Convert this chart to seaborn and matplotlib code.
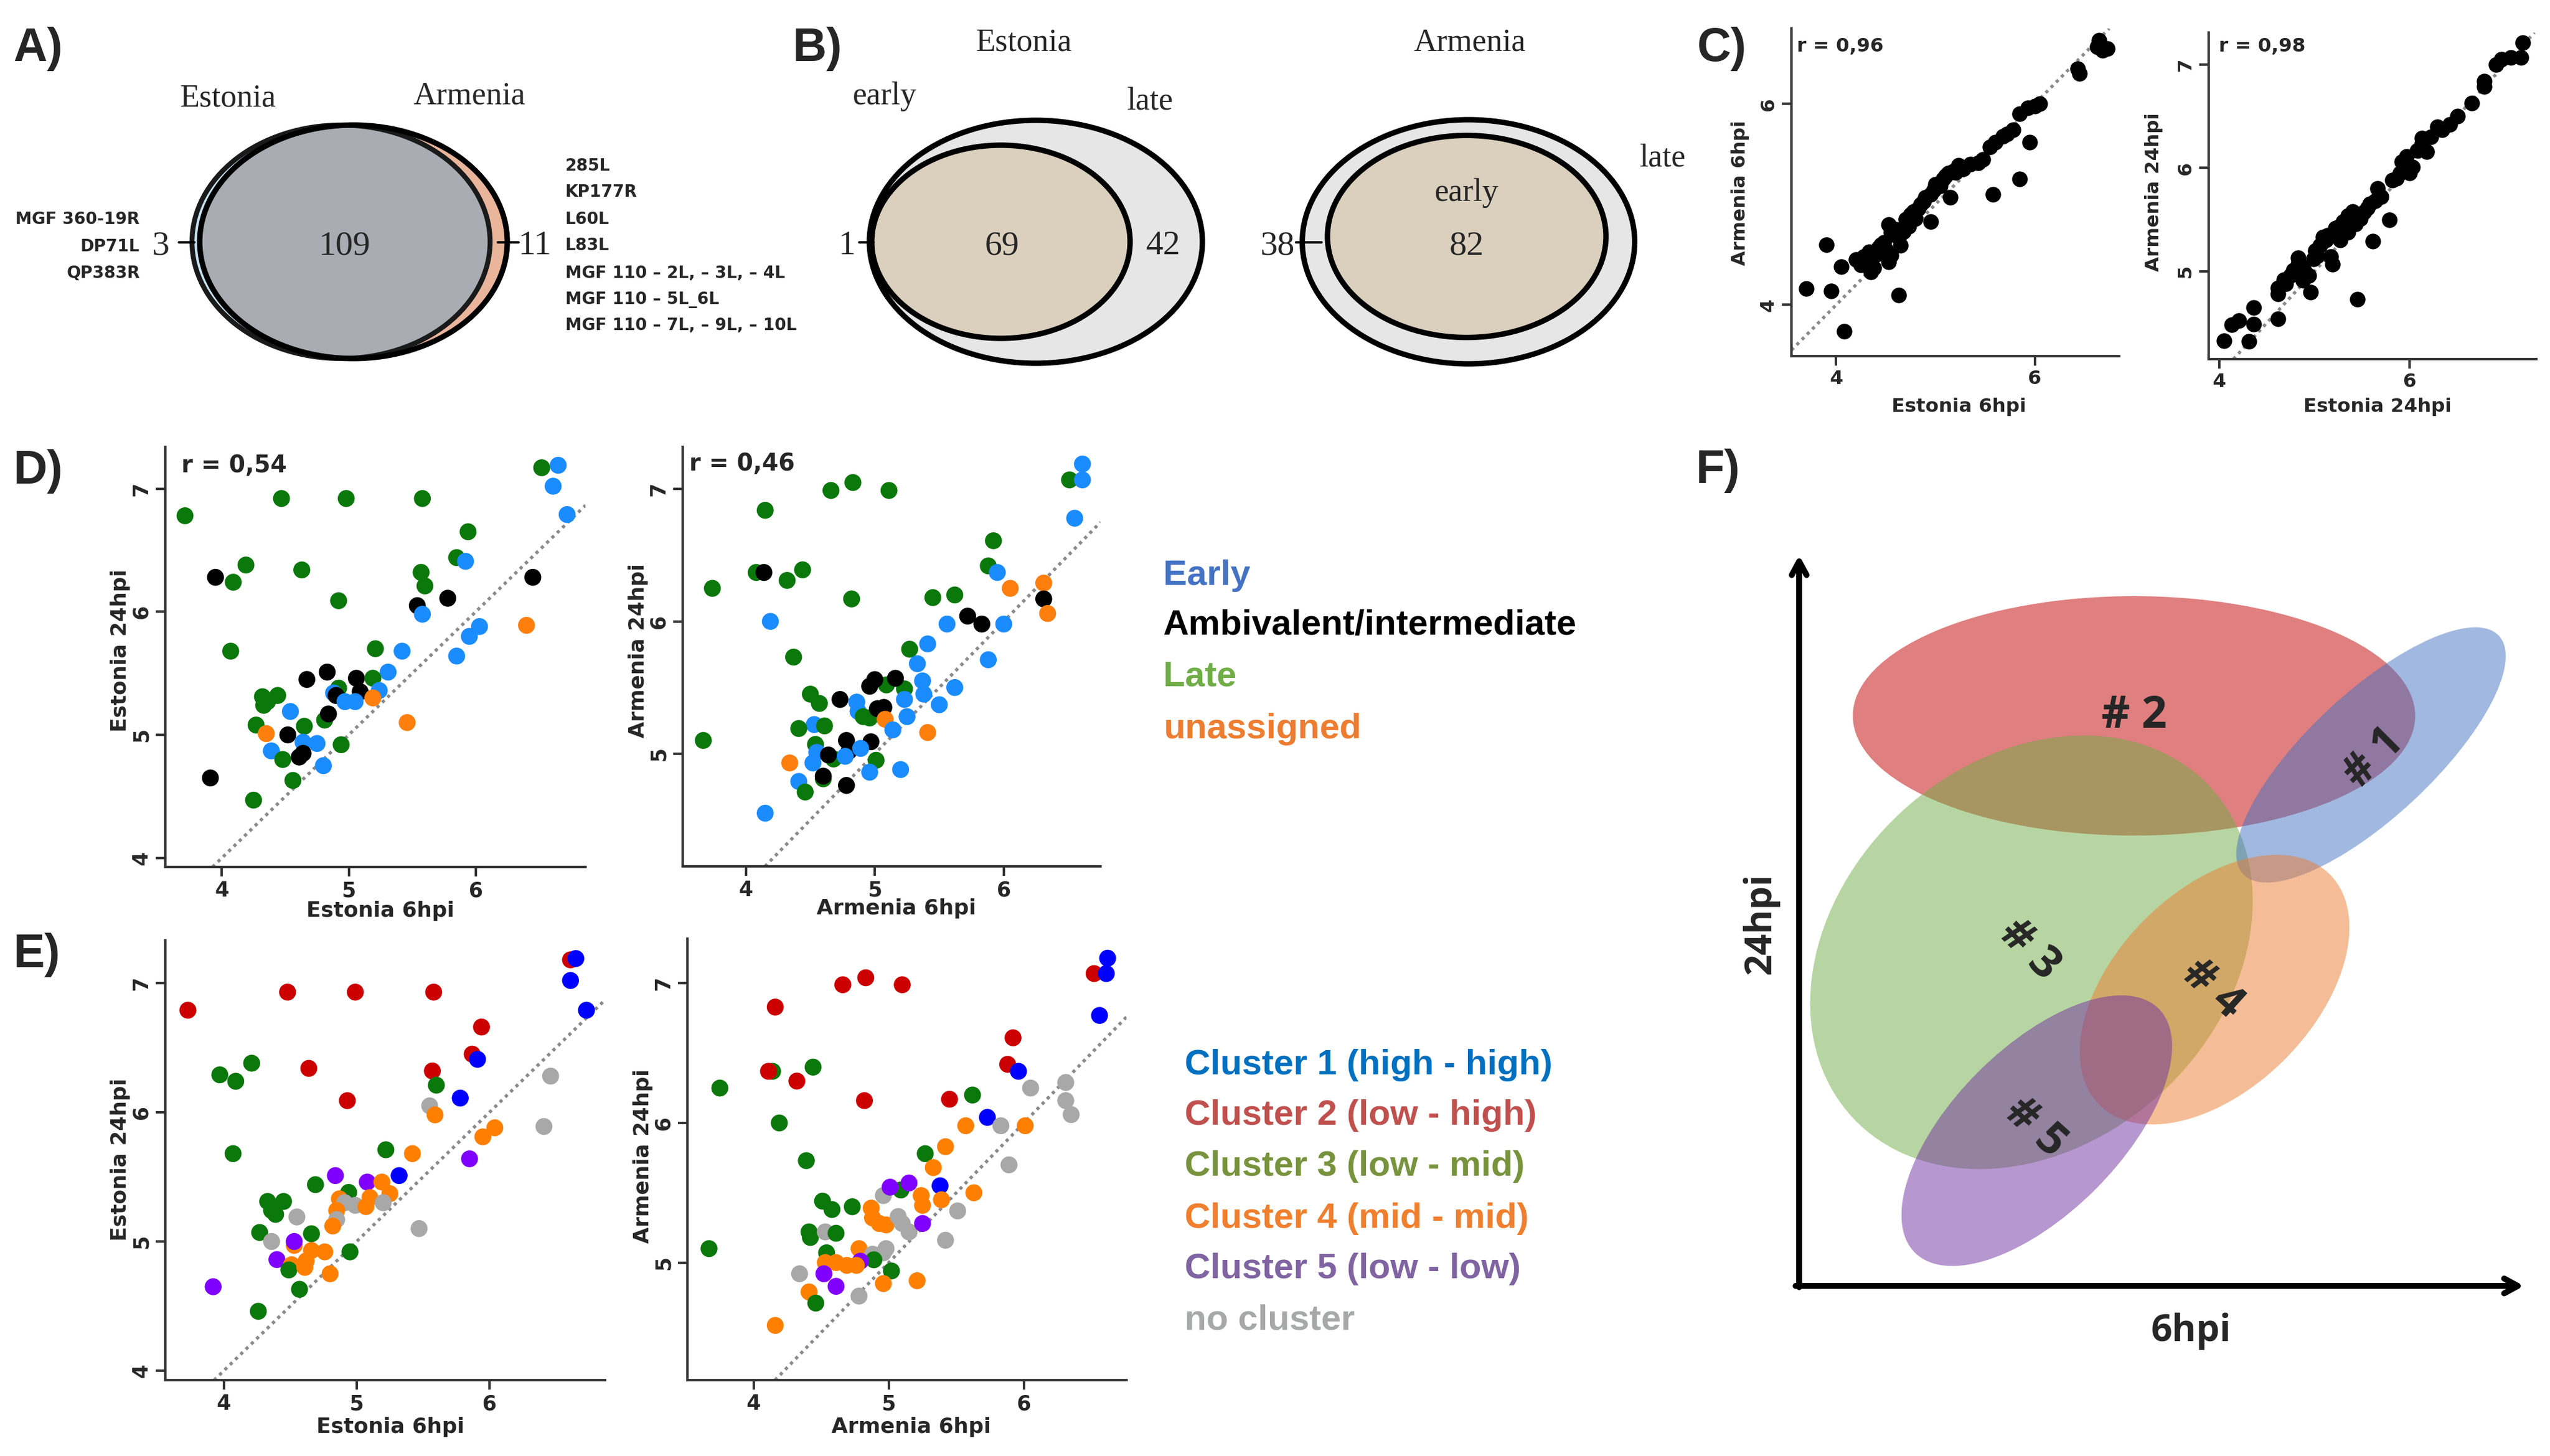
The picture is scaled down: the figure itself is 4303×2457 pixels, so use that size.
import numpy as np
import pandas as pd
import matplotlib
matplotlib.use("Agg")
import matplotlib.pyplot as plt
from matplotlib.patches import Ellipse
import seaborn as sns

W, H = 4303, 2457
DPI = 300

# ---------------- data ----------------
# A) Venn: genes detected in Estonia vs Armenia
venn_a_sets = ["Estonia", "Armenia"]
venn_a_counts = [3, 109, 11]          # Estonia only, both, Armenia only
estonia_only_genes = ["MGF 360-19R", "DP71L", "QP383R"]
armenia_only_genes = ["285L", "KP177R", "L60L", "L83L",
                      "MGF 110 – 2L, – 3L, – 4L", "MGF 110 – 5L_6L",
                      "MGF 110 – 7L, – 9L, – 10L"]

# B) early / late genes per isolate
venn_b_estonia = [1, 69, 42]          # early only, early+late, late only
venn_b_armenia = [38, 82]             # late only, early+late

# C) Estonia vs Armenia at the same time point
c6_est = [6.65, 6.63, 6.73, 6.68, 6.43, 6.45, 6.05, 5.93, 5.85, 5.78, 5.95, 5.60, 5.55, 5.48, 5.43,
          5.23, 5.28, 5.13, 5.08, 5.05, 5.85, 5.58, 5.15, 4.98, 4.90, 4.85, 4.83, 4.95, 4.80, 4.73,
          4.68, 4.53, 4.55, 4.63, 4.65, 4.55, 4.53, 4.43, 4.33, 4.28, 4.20, 4.25, 4.38, 4.35, 3.90,
          4.05, 3.70, 3.95, 4.63, 4.08, 5.00, 4.95, 4.88, 4.78, 4.70, 4.60, 4.48, 4.40, 5.20, 5.35,
          5.68, 5.72, 6.00, 4.75, 4.58, 5.10, 5.18, 4.50, 4.45, 4.30]
c6_arm = [6.63, 6.57, 6.55, 6.53, 6.35, 6.30, 6.00, 5.96, 5.90, 5.74, 5.62, 5.62, 5.57, 5.45, 5.41,
          5.39, 5.35, 5.31, 5.25, 5.18, 5.25, 5.10, 5.07, 5.14, 5.07, 5.00, 4.96, 4.83, 4.86, 4.78,
          4.73, 4.80, 4.72, 4.67, 4.59, 4.49, 4.43, 4.57, 4.53, 4.48, 4.45, 4.40, 4.37, 4.33, 4.60,
          4.38, 4.16, 4.14, 4.10, 3.74, 5.20, 5.10, 5.03, 4.93, 4.85, 4.75, 4.62, 4.50, 5.32, 5.40,
          5.68, 5.70, 5.98, 4.90, 4.70, 5.28, 5.33, 4.55, 4.60, 4.45]

c24_est = [4.05, 4.13, 4.21, 4.31, 4.36, 4.36, 4.62, 4.62, 4.62, 4.68, 4.75, 4.78, 4.83, 4.83, 4.96,
           4.88, 4.94, 4.99, 5.01, 5.06, 5.09, 5.19, 5.17, 5.25, 5.30, 5.35, 5.40, 5.27, 5.35, 5.45,
           5.43, 5.48, 5.56, 5.64, 5.66, 5.61, 5.79, 5.82, 5.90, 5.92, 5.97, 6.03, 6.00, 6.08, 6.13,
           6.13, 6.18, 6.29, 6.34, 6.42, 6.65, 6.78, 6.78, 6.91, 6.96, 7.06, 7.17, 7.19, 4.80, 4.86,
           5.03, 5.12, 5.20, 5.52, 5.70, 5.86, 6.22, 6.50, 4.70, 4.90, 5.14, 5.22, 5.58]
c24_arm = [4.33, 4.48, 4.52, 4.32, 4.49, 4.65, 4.54, 4.78, 4.84, 4.92, 4.96, 5.01, 5.07, 5.13, 4.80,
           4.91, 4.96, 5.12, 5.20, 5.25, 5.33, 5.07, 5.14, 5.43, 5.48, 5.54, 5.58, 5.30, 5.38, 4.73,
           5.46, 5.51, 5.61, 5.68, 5.80, 5.29, 5.50, 5.88, 5.95, 6.06, 6.11, 6.01, 5.95, 6.17, 6.24,
           6.29, 6.16, 6.40, 6.37, 6.42, 6.63, 6.84, 6.79, 7.00, 7.05, 7.07, 7.07, 7.21, 4.98, 5.05,
           5.15, 5.30, 5.38, 5.57, 5.72, 5.90, 6.30, 6.50, 4.88, 5.00, 5.35, 5.42, 5.65]

# D) Estonia 6hpi vs 24hpi, coloured by expression class (E/A/L/U)
d_est6 = [3.71, 4.47, 4.98, 5.58, 6.52, 6.65, 6.61, 6.72, 5.94, 5.85, 5.92, 4.19, 4.63, 3.95, 4.09,
          5.57, 5.60, 6.45, 5.78, 5.54, 5.58, 4.92, 6.40, 6.03, 5.95, 5.85, 4.07, 5.21, 5.42, 5.31,
          4.83, 4.67, 5.06, 5.19, 5.24, 5.09, 4.92, 4.88, 4.90, 4.97, 5.05, 5.19, 4.32, 4.33, 4.44,
          4.36, 4.54, 4.81, 4.84, 4.27, 4.65, 4.35, 4.52, 4.64, 4.75, 4.94, 5.46, 4.39, 4.48, 4.61,
          4.64, 4.80, 3.91, 4.56, 4.25]
d_est24 = [6.78, 6.92, 6.92, 6.92, 7.17, 7.19, 7.02, 6.79, 6.65, 6.44, 6.41, 6.38, 6.34, 6.28, 6.24,
           6.32, 6.21, 6.28, 6.11, 6.05, 5.98, 6.09, 5.89, 5.88, 5.80, 5.64, 5.68, 5.70, 5.68, 5.51,
           5.51, 5.45, 5.46, 5.46, 5.36, 5.35, 5.38, 5.34, 5.32, 5.27, 5.27, 5.30, 5.31, 5.24, 5.32,
           5.27, 5.19, 5.12, 5.17, 5.08, 5.07, 5.01, 5.00, 4.94, 4.93, 4.92, 5.10, 4.87, 4.80, 4.82,
           4.85, 4.75, 4.65, 4.63, 4.47]
d_est_class = ["L", "L", "L", "L", "L", "E", "E", "E", "L", "L", "E", "L", "L", "A", "L",
               "L", "L", "A", "A", "A", "E", "L", "U", "E", "E", "E", "L", "L", "E", "E",
               "A", "A", "A", "L", "E", "A", "L", "E", "A", "E", "E", "U", "L", "L", "L",
               "L", "E", "L", "A", "L", "L", "U", "A", "E", "E", "L", "U", "E", "L", "A",
               "A", "E", "A", "L", "L"]

d_arm6 = [3.74, 3.67, 4.15, 4.66, 4.83, 5.11, 6.51, 6.61, 6.61, 6.55, 5.92, 5.88, 5.95, 4.08, 4.14,
          4.44, 4.32, 4.82, 6.05, 6.31, 6.31, 6.34, 5.45, 5.62, 4.19, 5.56, 5.72, 5.83, 6.00, 5.41,
          5.27, 5.33, 5.88, 4.37, 5.09, 5.23, 5.16, 5.00, 4.96, 5.37, 5.38, 5.62, 4.50, 4.57, 4.73,
          4.86, 4.87, 4.91, 4.96, 5.02, 5.07, 5.23, 5.25, 5.50, 5.08, 4.53, 4.41, 4.61, 5.14, 5.41,
          4.54, 4.78, 4.80, 4.97, 4.89, 4.55, 4.52, 4.68, 4.64, 4.77, 5.01, 4.34, 4.96, 5.20, 4.60,
          4.60, 4.41, 4.46, 4.78, 4.15]
d_arm24 = [6.25, 5.10, 6.84, 6.99, 7.05, 6.99, 7.07, 7.19, 7.07, 6.78, 6.61, 6.42, 6.37, 6.37, 6.37,
           6.39, 6.31, 6.17, 6.25, 6.29, 6.17, 6.06, 6.18, 6.20, 6.00, 5.98, 6.04, 5.98, 5.98, 5.83,
           5.79, 5.68, 5.71, 5.73, 5.52, 5.49, 5.57, 5.56, 5.51, 5.55, 5.45, 5.50, 5.45, 5.38, 5.41,
           5.39, 5.32, 5.28, 5.27, 5.34, 5.35, 5.41, 5.28, 5.37, 5.26, 5.22, 5.19, 5.21, 5.18, 5.16,
           5.07, 5.10, 5.02, 5.09, 5.04, 5.01, 4.93, 4.96, 4.99, 4.98, 4.95, 4.93, 4.86, 4.88, 4.81,
           4.83, 4.79, 4.71, 4.76, 4.55]
d_arm_class = ["L", "L", "L", "L", "L", "L", "L", "E", "E", "E", "L", "L", "E", "L", "A",
               "L", "L", "L", "U", "U", "A", "U", "L", "L", "E", "E", "A", "A", "E", "E",
               "L", "E", "E", "L", "L", "L", "A", "A", "A", "E", "E", "E", "L", "L", "A",
               "E", "E", "L", "L", "A", "A", "E", "E", "E", "U", "E", "L", "L", "E", "U",
               "L", "A", "A", "A", "E", "E", "E", "L", "A", "E", "L", "U", "E", "E", "L",
               "A", "E", "L", "A", "E"]

# E) same genes, coloured by cluster (0 = no cluster)
e_est6 = [3.73, 4.48, 4.99, 5.58, 6.61, 6.65, 6.61, 6.73, 5.94, 5.87, 5.91, 4.21, 4.64, 3.97, 4.09,
          5.57, 5.60, 6.46, 5.78, 5.55, 5.59, 4.93, 6.41, 6.04, 5.95, 5.85, 4.07, 5.22, 5.42, 5.32,
          4.84, 4.69, 5.08, 5.19, 5.25, 5.10, 5.20, 4.94, 4.87, 4.91, 4.99, 5.07, 4.33, 4.36, 4.45,
          4.39, 4.55, 4.85, 4.85, 4.82, 4.27, 4.66, 4.36, 4.53, 4.53, 4.66, 4.76, 4.95, 5.47, 4.40,
          4.51, 4.49, 4.61, 4.62, 4.80, 3.92, 4.57, 4.26]
e_est24 = [6.79, 6.93, 6.93, 6.93, 7.18, 7.19, 7.02, 6.79, 6.66, 6.45, 6.41, 6.38, 6.34, 6.29, 6.24,
           6.32, 6.21, 6.28, 6.11, 6.05, 5.98, 6.09, 5.89, 5.88, 5.81, 5.64, 5.68, 5.71, 5.68, 5.51,
           5.51, 5.44, 5.46, 5.46, 5.37, 5.34, 5.30, 5.38, 5.33, 5.30, 5.28, 5.27, 5.31, 5.24, 5.31,
           5.21, 5.19, 5.24, 5.17, 5.12, 5.07, 5.06, 5.00, 4.97, 5.00, 4.93, 4.92, 4.92, 5.10, 4.86,
           4.82, 4.78, 4.80, 4.85, 4.75, 4.65, 4.63, 4.46]
e_est_cluster = [2, 2, 2, 2, 2, 1, 1, 1, 2, 2, 1, 3, 2, 3, 3,
                 2, 3, 0, 1, 0, 4, 2, 0, 4, 4, 5, 3, 3, 4, 1,
                 5, 3, 5, 4, 4, 4, 0, 3, 4, 0, 0, 4, 3, 3, 3,
                 3, 0, 4, 0, 4, 3, 3, 0, 4, 5, 4, 4, 3, 0, 5,
                 4, 3, 4, 4, 4, 5, 3, 3]

e_arm6 = [3.75, 3.67, 4.16, 4.66, 4.83, 5.10, 6.52, 6.62, 6.61, 6.56, 5.92, 5.88, 5.96, 4.14, 4.11,
          4.44, 4.32, 4.82, 6.05, 6.31, 6.31, 6.35, 5.45, 5.62, 4.19, 5.57, 5.73, 5.83, 6.01, 5.42,
          5.27, 5.33, 5.89, 4.39, 4.96, 5.09, 5.15, 5.01, 5.38, 5.24, 5.25, 5.39, 5.63, 5.51, 4.51,
          4.58, 4.73, 4.87, 4.88, 4.93, 4.98, 5.07, 5.10, 5.15, 5.25, 5.42, 4.41, 4.42, 4.53, 4.61,
          4.78, 4.88, 4.96, 4.98, 4.54, 4.89, 4.79, 4.53, 4.61, 4.69, 4.76, 4.34, 4.52, 5.02, 4.96,
          5.21, 4.61, 4.41, 4.78, 4.46, 4.16]
e_arm24 = [6.25, 5.10, 6.83, 6.99, 7.04, 6.99, 7.07, 7.18, 7.07, 6.77, 6.61, 6.42, 6.37, 6.37, 6.37,
           6.40, 6.30, 6.16, 6.25, 6.29, 6.16, 6.06, 6.17, 6.20, 6.00, 5.98, 6.04, 5.98, 5.98, 5.83,
           5.78, 5.68, 5.70, 5.73, 5.48, 5.52, 5.57, 5.54, 5.55, 5.48, 5.41, 5.45, 5.50, 5.37, 5.44,
           5.38, 5.40, 5.39, 5.32, 5.28, 5.27, 5.33, 5.28, 5.22, 5.28, 5.16, 5.22, 5.18, 5.22, 5.21,
           5.10, 5.06, 5.07, 5.10, 5.07, 5.02, 5.01, 5.00, 5.00, 4.98, 4.98, 4.92, 4.92, 4.94, 4.85,
           4.87, 4.83, 4.79, 4.76, 4.71, 4.55]
e_arm_cluster = [3, 3, 2, 2, 2, 2, 2, 1, 1, 1, 2, 2, 1, 3, 2,
                 3, 2, 2, 0, 0, 0, 0, 2, 3, 3, 4, 1, 0, 4, 4,
                 3, 4, 0, 3, 0, 3, 5, 5, 1, 4, 4, 4, 4, 0, 3,
                 3, 3, 4, 4, 4, 4, 0, 0, 0, 5, 0, 3, 3, 0, 3,
                 4, 0, 0, 0, 3, 3, 5, 4, 4, 4, 4, 0, 5, 3, 4,
                 4, 5, 4, 0, 3, 4]

r_values = ["r = 0,96", "r = 0,98", "r = 0,54", "r = 0,46"]

trend_order = ["E", "A", "L", "U"]
trend_labels = ["Early", "Ambivalent/intermediate", "Late", "unassigned"]
trend_point_colors = ["#1a8cff", "#000000", "#0b780b", "#ff7f0e"]
trend_text_colors = ["#4472c4", "#000000", "#70ad47", "#ed7d31"]

cluster_order = [1, 2, 3, 4, 5, 0]
cluster_labels = ["Cluster 1 (high - high)", "Cluster 2 (low - high)", "Cluster 3 (low - mid)",
                  "Cluster 4 (mid - mid)", "Cluster 5 (low - low)", "no cluster"]
cluster_point_colors = ["#0000ff", "#cc0000", "#0b780b", "#ff8000", "#8000ff", "#a8a8a8"]
cluster_text_colors = ["#0070c0", "#c0504d", "#77933c", "#f07f2e", "#8064a2", "#a6a9a8"]

# F) schematic of the five clusters
schema_labels = ["# 1", "# 2", "# 3", "# 4", "# 5"]
schema_colors = ["#4472c4", "#c00000", "#70ad47", "#ed7d31", "#7030a0"]

# ---------------- figure ----------------
sns.set_style("white")
plt.rcParams["font.family"] = ["DejaVu Sans"]
plt.rcParams["axes.linewidth"] = 1.0

fig = plt.figure(figsize=(W / DPI, H / DPI), dpi=DPI)
ov = fig.add_axes([0, 0, 1, 1])
ov.set_xlim(0, W)
ov.set_ylim(H, 0)
ov.set_axis_off()

SERIF = "Liberation Serif"
ARIAL = "Liberation Sans"
OPEN = "Open Sans"


def ell(cx, cy, w, h, angle=0, **kw):
    e = Ellipse((cx, cy), w, h, angle=angle, **kw)
    ov.add_patch(e)
    return e


# panel letters
for letter, (x, y) in zip("ABCDEF", [(22, 103), (1338, 103), (2864, 103),
                                      (23, 816), (23, 1632), (2862, 815)]):
    ov.text(x, y, letter + ")", family=ARIAL, fontweight="bold", fontsize=19,
            ha="left", va="baseline")

# ---- A) Venn ----
ov.text(385, 180, venn_a_sets[0], family=SERIF, fontsize=13, ha="center", va="baseline")
ov.text(792, 176, venn_a_sets[1], family=SERIF, fontsize=13, ha="center", va="baseline")
ell(575.5, 408, 503, 394, fc="#c5e3f2", ec="none")
arm = ell(596.5, 408, 519, 394, fc="#e9b59b", ec="none")
inter = ell(575.5, 408, 503, 394, fc="#a9adb3", ec="none")
inter.set_clip_path(arm)
ell(575.5, 408, 503, 394, fc="none", ec="#1a1a1a", lw=2.0)
ell(596.5, 408, 519, 394, fc="none", ec="#000000", lw=2.2)
ov.plot([302, 328], [409, 409], color="k", lw=1.0)
ov.plot([840, 875], [409, 409], color="k", lw=1.0)
for x, n in zip([271, 582, 903], venn_a_counts):
    ov.text(x, 429, str(n), family=SERIF, fontsize=14, ha="center", va="baseline")
for y, g in zip([378, 424, 469], estonia_only_genes):
    ov.text(236, y, g, fontweight="bold", fontsize=6.7, ha="right", va="baseline")
for y, g in zip([288, 332, 378, 422, 469, 513, 557], armenia_only_genes):
    ov.text(954, y, g, fontweight="bold", fontsize=6.7, ha="left", va="baseline")

# ---- B) early/late Venns ----
ov.text(1728, 86, "Estonia", family=SERIF, fontsize=13, ha="center", va="baseline")
ov.text(2480, 86, "Armenia", family=SERIF, fontsize=13, ha="center", va="baseline")
ov.text(1493, 176, "early", family=SERIF, fontsize=13, ha="center", va="baseline")
ov.text(1941, 185, "late", family=SERIF, fontsize=13, ha="center", va="baseline")
ell(1748, 408, 562, 410, fc="#e6e6e6", ec="k", lw=2.2)
ell(1689, 408, 436, 326, fc="#dbd0be", ec="k", lw=2.2)
ov.plot([1450, 1474], [409, 409], color="k", lw=1.0)
for x, n in zip([1429, 1691, 1963], venn_b_estonia):
    ov.text(x, 429, str(n), family=SERIF, fontsize=14, ha="center", va="baseline")
ell(2478, 408, 561, 412, fc="#e6e6e6", ec="k", lw=2.2)
ell(2475, 399, 470, 341, fc="#dbd0be", ec="k", lw=2.2)
ov.plot([2187, 2230], [409, 409], color="k", lw=1.0)
ov.text(2806, 282, "late", family=SERIF, fontsize=13, ha="center", va="baseline")
ov.text(2475, 339, "early", family=SERIF, fontsize=13, ha="center", va="baseline")
for x, n in zip([2155, 2475], venn_b_armenia):
    ov.text(x, 429, str(n), family=SERIF, fontsize=14, ha="center", va="baseline")


# ---- scatter panels ----
def scatter_panel(box, x, y, groups, order, colors, xlim, ylim, xticks, yticks,
                  xlabel, ylabel, xlab_px, ylab_px, s, fs_tick, fs_lab):
    left, top, right, bottom = box
    ax = fig.add_axes([left / W, 1 - bottom / H, (right - left) / W, (bottom - top) / H])
    ax.set_facecolor("none")
    ax.axline((4, 4), slope=1, color="#8a8a8a", lw=1.3, ls=(0, (1, 1.3)), zorder=1)
    df = pd.DataFrame({"x": x, "y": y, "g": groups})
    if order is None:
        sns.scatterplot(data=df, x="x", y="y", color="black", marker="o", s=s,
                        linewidth=0, legend=False, ax=ax, zorder=2)
    else:
        sns.scatterplot(data=df, x="x", y="y", hue="g", hue_order=order,
                        palette=dict(zip(order, colors)), marker="o", s=s,
                        linewidth=0, legend=False, ax=ax, zorder=2)
    ax.set_xlim(*xlim)
    ax.set_ylim(*ylim)
    ax.set_xticks(xticks, [str(v) for v in xticks], fontsize=fs_tick, fontweight="bold")
    ax.set_yticks(yticks, [str(v) for v in yticks], fontsize=fs_tick, fontweight="bold",
                  rotation=90, va="center")
    sns.despine(ax=ax)
    for sp in ("left", "bottom"):
        ax.spines[sp].set_color("#333333")
        ax.spines[sp].set_linewidth(1.0)
    ax.tick_params(axis="both", direction="out", length=3.8, width=1.0,
                   color="#333333", pad=1.8, left=True, bottom=True)
    ax.set_xlabel(xlabel, fontsize=fs_lab, fontweight="bold", va="baseline")
    ax.xaxis.set_label_coords((xlab_px[0] - left) / (right - left),
                              (bottom - xlab_px[1]) / (bottom - top))
    ax.set_ylabel(ylabel, fontsize=fs_lab, fontweight="bold", va="center")
    ax.yaxis.set_label_coords((ylab_px[0] - left) / (right - left),
                              (bottom - ylab_px[1]) / (bottom - top))
    return ax


scatter_panel((3023, 48, 3576, 601), c6_est, c6_arm, None, None, None,
              (3.55, 6.85), (3.49, 6.75), [4, 6], [4, 6],
              "Estonia 6hpi", "Armenia 6hpi", (3306, 695), (2937, 326), 40, 7.8, 7.8)
scatter_panel((3727, 55, 4280, 606), c24_est, c24_arm, None, None, None,
              (3.89, 7.33), (4.15, 7.31), [4, 6], [5, 6, 7],
              "Estonia 24hpi", "Armenia 24hpi", (4012, 695), (3635, 324), 40, 7.8, 7.8)
ov.text(3032, 87, r_values[0], fontweight="bold", fontsize=7.8, ha="left", va="baseline")
ov.text(3744, 87, r_values[1], fontweight="bold", fontsize=7.8, ha="left", va="baseline")

scatter_panel((279, 754, 988, 1463), d_est6, d_est24, d_est_class, trend_order, trend_point_colors,
              (3.555, 6.865), (3.927, 7.34), [4, 5, 6], [4, 5, 6, 7],
              "Estonia 6hpi", "Estonia 24hpi", (642, 1547), (203, 1098), 47, 8.3, 8.6)
scatter_panel((1152, 754, 1857, 1462), d_arm6, d_arm24, d_arm_class, trend_order, trend_point_colors,
              (3.51, 6.75), (4.148, 7.32), [4, 5, 6], [5, 6, 7],
              "Armenia 6hpi", "Armenia 24hpi", (1513, 1543), (1077, 1098), 47, 8.3, 8.6)
ov.text(306, 797, r_values[2], fontweight="bold", fontsize=9.5, ha="left", va="baseline")
ov.text(1163, 794, r_values[3], fontweight="bold", fontsize=9.5, ha="left", va="baseline")

scatter_panel((279, 1587, 1021, 2329), e_est6, e_est24, e_est_cluster, cluster_order, cluster_point_colors,
              (3.56, 6.87), (3.927, 7.33), [4, 5, 6], [4, 5, 6, 7],
              "Estonia 6hpi", "Estonia 24hpi", (659, 2418), (203, 1957), 47, 8.3, 8.6)
scatter_panel((1160, 1584, 1901, 2329), e_arm6, e_arm24, e_arm_cluster, cluster_order, cluster_point_colors,
              (3.51, 6.76), (4.158, 7.32), [4, 5, 6], [5, 6, 7],
              "Armenia 6hpi", "Armenia 24hpi", (1538, 2418), (1085, 1951), 47, 8.3, 8.6)

# text legends
for y, lab, c in zip([987, 1070, 1158, 1246], trend_labels, trend_text_colors):
    ov.text(1963, y, lab, family=ARIAL, fontweight="bold", fontsize=14.4, color=c,
            ha="left", va="baseline")
for y, lab, c in zip([1813, 1898, 1984, 2072, 2157, 2243], cluster_labels, cluster_text_colors):
    ov.text(1999, y, lab, family=ARIAL, fontweight="bold", fontsize=14.4, color=c,
            ha="left", va="baseline")

# ---- F) cluster schematic ----
ell(3601, 1208, 949, 404, fc=schema_colors[1], ec="none", alpha=0.5)
ell(3428, 1607, 822, 646, angle=-42.5, fc=schema_colors[2], ec="none", alpha=0.5)
ell(4001, 1274, 590, 210, angle=-43, fc=schema_colors[0], ec="none", alpha=0.5)
ell(3737, 1670, 550, 334, angle=-45, fc=schema_colors[3], ec="none", alpha=0.5)
ell(3437, 1908, 582, 280, angle=-45, fc=schema_colors[4], ec="none", alpha=0.5)
for (x, y, rot), lab in zip([(4006, 1280, 45), (3601, 1208, 0), (3424, 1603, -45),
                             (3733, 1670, -42), (3434, 1903, -42)], schema_labels):
    ov.text(x, y, lab, family=OPEN, fontweight="bold", fontsize=18, rotation=rot,
            ha="center", va="center", rotation_mode="anchor")
arrow = dict(arrowstyle="->,head_length=0.55,head_width=0.3", lw=2.4, color="k",
             shrinkA=0, shrinkB=0)
ov.annotate("", xy=(3036, 937), xytext=(3036, 2172), arrowprops=arrow)
ov.annotate("", xy=(4259, 2170), xytext=(3030, 2170), arrowprops=arrow)
ov.text(2971, 1558, "24hpi", family=OPEN, fontweight="bold", fontsize=15, rotation=90,
        ha="center", va="center")
ov.text(3697, 2246, "6hpi", family=OPEN, fontweight="bold", fontsize=15,
        ha="center", va="center")

fig.savefig("out.png", dpi=DPI)
